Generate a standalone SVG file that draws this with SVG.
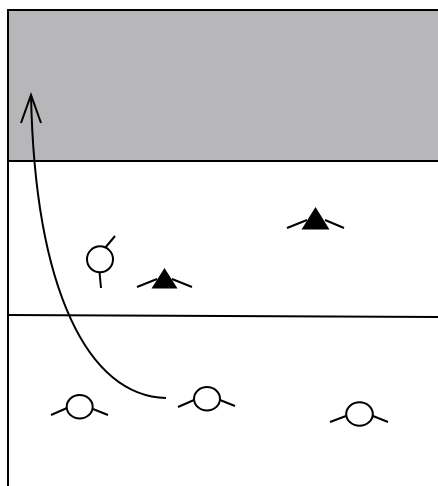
<svg xmlns="http://www.w3.org/2000/svg" width="438" height="486" viewBox="0 0 438 486">
<style>
.l{fill:none;stroke:#000;stroke-width:2}
.c{fill:#fff;stroke:#000;stroke-width:2}
.t{fill:#000;stroke:none}
</style>
<rect width="438" height="486" fill="#fff"/>
<rect id="zone" x="8" y="10" width="430" height="151" fill="#b7b6b8"/>
<g id="frame">
<path class="l" d="M438,10H8V486"/>
<path class="l" d="M8,161H438"/>
<path class="l" d="M8,315L438,317"/>
</g>
<g id="connectors">
<path class="l" d="M166,398C88,396 35,290 31,95"/>
<path class="l" d="M21,123L31,95L41,123"/>
</g>
<g id="node-circle">
<path class="l" d="M105,248L115,236M99.500,272L101,288"/>
<circle class="c" cx="100" cy="259.300" r="13"/>
</g>
<g id="node-triangle-1">
<path class="t" d="M164.500,268L177.500,288.500H151.500Z"/>
<path class="l" d="M137,287L157,279M172,279L192,287"/>
</g>
<g id="node-triangle-2">
<path class="t" d="M315.500,207L329.500,229.500H301.500Z"/>
<path class="l" d="M287,228L307,220M325,220L344,228"/>
</g>
<g id="node-ellipse-1">
<path class="l" d="M51,415L67,408M93,409L108,415"/>
<ellipse class="c" cx="79.700" cy="406.700" rx="13" ry="11.700"/>
</g>
<g id="node-ellipse-2">
<path class="l" d="M178,407L194,400M220,400L235,406"/>
<ellipse class="c" cx="207" cy="398.700" rx="13" ry="11.700"/>
</g>
<g id="node-ellipse-3">
<path class="l" d="M330,422L346,416M373,416L388,422"/>
<ellipse class="c" cx="359.500" cy="414" rx="13.300" ry="11.800"/>
</g>
</svg>
